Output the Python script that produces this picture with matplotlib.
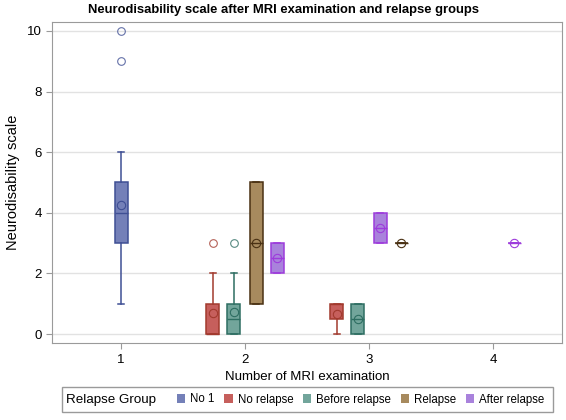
import matplotlib
matplotlib.use("Agg")
import matplotlib.pyplot as plt
from matplotlib.patches import Patch, Rectangle

plt.rcParams['font.family'] = ['Liberation Sans', 'DejaVu Sans']

# groups and colours
groups = ["No 1", "No relapse", "Before relapse", "Relapse", "After relapse"]
fills = ["#7480B8", "#C65F5C", "#72A59B", "#A78A5E", "#A982DC"]
edges = ["#3F4F94", "#A23A2E", "#2E6E62", "#4A3113", "#9D3CDB"]

# box statistics
exam = [1, 2, 2, 2, 2, 3, 3, 3, 3, 4]
group = ["No 1", "No relapse", "Before relapse", "Relapse", "After relapse",
         "No relapse", "Before relapse", "After relapse", "Relapse", "After relapse"]
q1 = [3, 0, 0, 1, 2, 0.5, 0, 3, 3, 3]
median = [4, 0, 0.5, 3, 2.5, 1, 0.5, 3.5, 3, 3]
q3 = [5, 1, 1, 5, 3, 1, 1, 4, 3, 3]
whislo = [1, 0, 0, 1, 2, 0, 0, 3, 3, 3]
whishi = [6, 2, 2, 5, 3, 1, 1, 4, 3, 3]
mean = [4.26, 0.7, 0.74, 3, 2.5, 0.67, 0.5, 3.5, 3, 3]
outliers = [[9, 10], [3], [3], [], [], [], [], [], [], []]
# cluster offsets within each exam
offset = [0, -0.26, -0.09, 0.09, 0.26, -0.26, -0.09, 0.09, 0.26, 0.17]

fig = plt.figure(figsize=(5.66, 4.2), dpi=100)
ax = fig.add_axes([0.092, 0.183, 0.901, 0.765])

for i in range(len(exam)):
    gi = groups.index(group[i])
    fc, ec = fills[gi], edges[gi]
    st = dict(q1=q1[i], med=median[i], q3=q3[i], whislo=whislo[i], whishi=whishi[i],
              mean=mean[i], fliers=outliers[i])
    ax.bxp([st], positions=[exam[i] + offset[i]], widths=0.105, capwidths=0.05,
           patch_artist=True, showmeans=True,
           boxprops=dict(facecolor=fc, edgecolor=ec, linewidth=1.1),
           medianprops=dict(color=ec, linewidth=1),
           whiskerprops=dict(color=ec, linewidth=1.1),
           capprops=dict(color=ec, linewidth=1.1),
           meanprops=dict(marker='o', markerfacecolor='none', markeredgecolor=ec,
                          markersize=6, markeredgewidth=0.8),
           flierprops=dict(marker='o', markerfacecolor='none', markeredgecolor=ec,
                           markersize=5.5, markeredgewidth=0.8, alpha=0.8),
           manage_ticks=False, zorder=3)

ax.set_xlim(0.444, 4.556)
ax.set_ylim(-0.3, 10.3)
ax.set_xticks([1, 2, 3, 4])
ax.set_yticks([0, 2, 4, 6, 8, 10])
ax.grid(axis='y', color='#e2e2e2', linewidth=1, zorder=0)
ax.set_axisbelow(True)
for sp in ax.spines.values():
    sp.set_color('#9a9a9a')
ax.tick_params(colors='#9a9a9a', labelcolor='black', labelsize=9.5, length=4)

ax.set_xlabel("Number of MRI examination", fontsize=9.5, labelpad=4)
ax.set_ylabel("Neurodisability scale", fontsize=10.5, labelpad=5)
fig.suptitle("Neurodisability scale after MRI examination and relapse groups",
             x=283 / 566, y=1 - 10 / 420, va='center', fontsize=9.4, fontweight='bold')

# legend box
fig.patches.append(Rectangle((62 / 566, 1 - 412 / 420), (553 - 62) / 566, 25 / 420,
                             transform=fig.transFigure, facecolor='white',
                             edgecolor='#9a9a9a', linewidth=1))
fig.text(66 / 566, 1 - 399.5 / 420, "Relapse Group", fontsize=9.6, va='center', ha='left')
handles = [Patch(facecolor=fills[k], edgecolor='none') for k in range(len(groups))]
leg = fig.legend(handles, groups, ncol=5, frameon=False, loc='center left',
                 bbox_to_anchor=(177 / 566, 1 - 399.5 / 420), fontsize=8.3,
                 handlelength=0.7, handleheight=0.7, handletextpad=0.45, columnspacing=0.85,
                 borderaxespad=0, borderpad=0)
# keep all entry labels on one baseline
for t in leg.get_texts():
    t.set_verticalalignment('baseline')

fig.savefig("out.png", dpi=100)
